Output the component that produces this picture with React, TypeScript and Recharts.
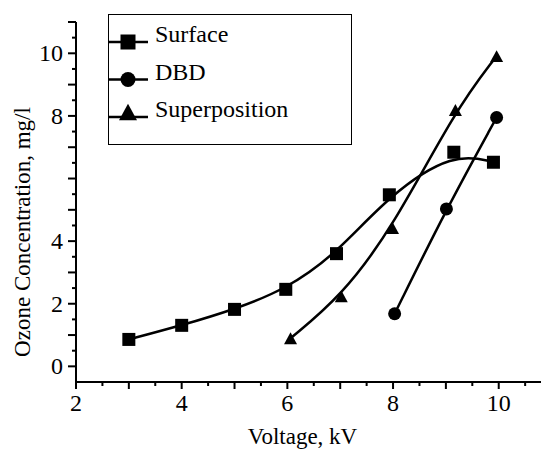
import React from 'react';
import { LineChart, Line, XAxis, YAxis, Legend } from 'recharts';

// ---- data ----
const surfaceX = [3, 4, 5, 5.97, 6.93, 7.93, 9.15, 9.9];
const surfaceY = [0.86, 1.31, 1.82, 2.46, 3.6, 5.48, 6.84, 6.52];
const dbdX = [8.03, 9.01, 9.96];
const dbdY = [1.68, 5.03, 7.95];
const superX = [6.06, 7.02, 7.99, 9.18, 9.96];
const superY = [0.9, 2.24, 4.42, 8.19, 9.91];

const seriesNames = ['Surface', 'DBD', 'Superposition'];
const seriesShapes = ['square', 'circle', 'triangle'];

const xTicks = [2, 2.5, 3, 3.5, 4, 4.5, 5, 5.5, 6, 6.5, 7, 7.5, 8, 8.5, 9, 9.5, 10, 10.5];
const xTickLabels = [2, 4, 6, 8, 10];
const yTicks = [0, 0.5, 1, 1.5, 2, 2.5, 3, 3.5, 4, 4.5, 5, 5.5, 6, 6.5, 7, 7.5, 8, 8.5, 9, 9.5, 10, 10.5, 11];
const yTickLabels = [0, 2, 4, 8, 10];

const xTitle = 'Voltage, kV';
const yTitle = 'Ozone Concentration, mg/l';

const toData = (xs: number[], ys: number[]) => xs.map((x, i) => ({ x, y: ys[i] }));
const surfaceData = toData(surfaceX, surfaceY);
const dbdData = toData(dbdX, dbdY);
const superData = toData(superX, superY);

const FONT = '"Liberation Serif", "Times New Roman", serif';

function Marker({ shape, cx, cy, s, dy = 0 }: any) {
  if (cx == null || cy == null) return null;
  const c = cy + dy;
  if (shape === 'square') return <rect x={cx - s / 2} y={c - s / 2} width={s} height={s} fill="#000" />;
  if (shape === 'circle') return <circle cx={cx} cy={c} r={s / 2} fill="#000" />;
  const h = s * 0.92;
  return (
    <polygon
      points={`${cx},${c - h / 2} ${cx - s / 2},${c + h / 2} ${cx + s / 2},${c + h / 2}`}
      fill="#000"
    />
  );
}

const makeDot = (shape: string) => (p: any) => (
  <Marker key={`d-${shape}-${p.index}`} shape={shape} cx={p.cx} cy={p.cy} s={13} />
);

function XTick(props: any) {
  const { x, y, payload } = props;
  const v = payload.value;
  const major = Math.abs(v - Math.round(v)) < 1e-6;
  const len = major ? 7 : 4;
  return (
    <g>
      <line x1={x} x2={x} y1={y} y2={y + len} stroke="#000" strokeWidth={2} />
      {xTickLabels.includes(v) && (
        <text x={x} y={y + 29} textAnchor="middle" fontFamily={FONT} fontSize={24} fill="#000">
          {v}
        </text>
      )}
    </g>
  );
}

function YTick(props: any) {
  const { x, y, payload } = props;
  const v = payload.value;
  const major = Math.abs(v - Math.round(v)) < 1e-6;
  const len = major ? 8 : 4;
  return (
    <g>
      <line x1={x - len} x2={x} y1={y} y2={y} stroke="#000" strokeWidth={2} />
      {yTickLabels.includes(v) && (
        <text x={x - 13} y={y + 8} textAnchor="end" fontFamily={FONT} fontSize={24} fill="#000">
          {v}
        </text>
      )}
    </g>
  );
}

function LegendBox() {
  return (
    <svg width={244} height={131} style={{ display: 'block' }}>
      <rect x={0.5} y={0.5} width={243} height={130} fill="#fff" stroke="#000" strokeWidth={1} />
      {seriesNames.map((name, i) => {
        const y = 28 + i * 37.5;
        const shape = seriesShapes[i];
        return (
          <g key={name}>
            <line x1={0} x2={40} y1={y} y2={y} stroke="#000" strokeWidth={2.5} />
            <Marker shape={shape} cx={20} cy={y} s={shape === 'triangle' ? 18 : 15} dy={shape === 'triangle' ? -5 : 0} />
            <text x={47} y={y} fontFamily={FONT} fontSize={24} fill="#000">
              {name}
            </text>
          </g>
        );
      })}
    </svg>
  );
}

export default function App() {
  return (
    <div style={{ position: 'absolute', left: 0, top: 0, width: 542, height: 450, background: '#fff' }}>
      <LineChart width={542} height={450} margin={{ top: 22, right: 1, bottom: 28, left: 0 }}>
        <XAxis
          type="number"
          dataKey="x"
          domain={[2, 10.8]}
          allowDataOverflow
          ticks={xTicks}
          interval={0}
          tickSize={0}
          tickMargin={0}
          tickLine={false}
          tick={<XTick />}
          height={40}
          axisLine={{ stroke: '#000', strokeWidth: 2 }}
          label={(p: any) => {
            const vb = p.viewBox || { x: 76, y: 382 };
            return (
              <text x={vb.x + 226.5} y={vb.y + 62} textAnchor="middle" fontFamily={FONT} fontSize={23} fill="#000">
                {xTitle}
              </text>
            );
          }}
        />
        <YAxis
          type="number"
          dataKey="y"
          domain={[-0.5, 11]}
          allowDataOverflow
          ticks={yTicks}
          interval={0}
          tickSize={0}
          tickMargin={0}
          tickLine={false}
          tick={<YTick />}
          width={76}
          axisLine={{ stroke: '#000', strokeWidth: 2 }}
          label={() => (
            <text
              x={22}
              y={232}
              transform="rotate(-90 22 232)"
              textAnchor="middle"
              dominantBaseline="central"
              fontFamily={FONT}
              fontSize={23}
              fill="#000"
            >
              {yTitle}
            </text>
          )}
        />
        <Legend
          layout="horizontal"
          verticalAlign="middle"
          align="center"
          wrapperStyle={{ left: 108, top: 14, width: 244, height: 131 }}
          content={() => <LegendBox />}
        />
        <Line
          data={surfaceData}
          dataKey="y"
          name={seriesNames[0]}
          type="basis"
          stroke="#000"
          strokeWidth={2.5}
          dot={makeDot('square')}
          isAnimationActive={false}
        />
        <Line
          data={dbdData}
          dataKey="y"
          name={seriesNames[1]}
          type="basis"
          stroke="#000"
          strokeWidth={2.5}
          dot={makeDot('circle')}
          isAnimationActive={false}
        />
        <Line
          data={superData}
          dataKey="y"
          name={seriesNames[2]}
          type="basis"
          stroke="#000"
          strokeWidth={2.5}
          dot={makeDot('triangle')}
          isAnimationActive={false}
        />
      </LineChart>
    </div>
  );
}
